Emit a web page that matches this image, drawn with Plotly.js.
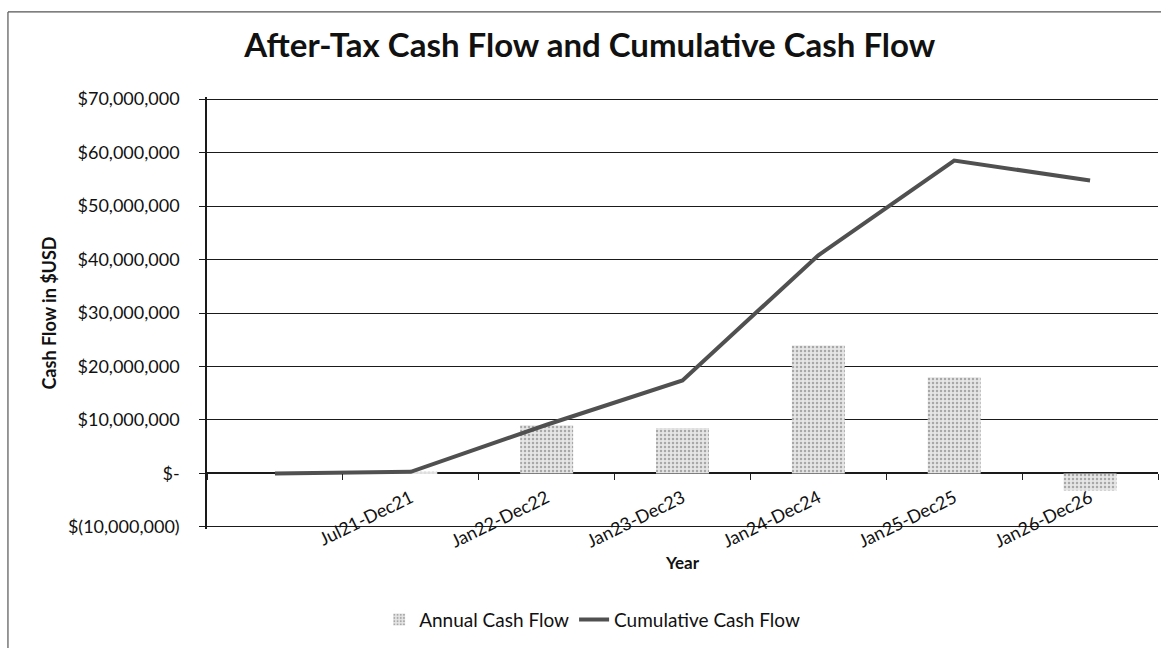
<!DOCTYPE html>
<html>
<head>
<meta charset="utf-8">
<script src="https://cdn.plot.ly/plotly-3.0.1.min.js"></script>
<style>html,body{margin:0;padding:0;background:#fff;}#chart{width:1161px;height:648px;}</style>
</head>
<body>
<div id="chart"></div>
<script>
const categories = [" ", "Jul21-Dec21", "Jan22-Dec22", "Jan23-Dec23", "Jan24-Dec24", "Jan25-Dec25", "Jan26-Dec26"];
const annualCashFlow = [0, 300000, 9000000, 8500000, 23900000, 18000000, -3200000];
const cumulativeCashFlow = [0, 300000, 9100000, 17400000, 40800000, 58500000, 54800000];
const yTickValues = [-10000000, 0, 10000000, 20000000, 30000000, 40000000, 50000000, 60000000, 70000000];
const yTickLabels = ["$(10,000,000)", "$-", "$10,000,000", "$20,000,000", "$30,000,000", "$40,000,000", "$50,000,000", "$60,000,000", "$70,000,000"];

const FONT = "Lato, 'Open Sans', sans-serif";
const Y_MIN = -10400000, Y_MAX = 70400000;

const traces = [
  {
    type: "bar",
    name: "Annual Cash Flow",
    x: categories,
    y: annualCashFlow,
    marker: {
      color: "#dcdcdc",
      line: {width: 0},
      pattern: {shape: ".", fgcolor: "#a8a8a8", bgcolor: "#e6e6e6", size: 4, solidity: 0.3}
    },
    hoverinfo: "x+y"
  },
  {
    type: "scatter",
    mode: "lines",
    name: "Cumulative Cash Flow",
    x: categories,
    y: cumulativeCashFlow,
    line: {color: "#505050", width: 4},
    hoverinfo: "x+y"
  }
];

const layout = {
  width: 1161,
  height: 648,
  margin: {l: 207, r: 3, t: 97, b: 119},
  paper_bgcolor: "#fff",
  plot_bgcolor: "#fff",
  font: {family: FONT, color: "#111", size: 18},
  showlegend: true,
  bargap: 0.61,
  title: {
    text: "<b>After-Tax Cash Flow and Cumulative Cash Flow</b>",
    font: {family: FONT, size: 33, color: "#111"},
    x: 0.508, xref: "container", xanchor: "center",
    y: 0.93, yref: "container", yanchor: "middle"
  },
  xaxis: {
    type: "category",
    anchor: "free",
    position: (0 - Y_MIN) / (Y_MAX - Y_MIN),
    showgrid: false,
    showline: false,
    zeroline: false,
    ticks: "outside",
    tickson: "boundaries",
    ticklen: 6,
    tickcolor: "#222",
    tickangle: -26,
    ticklabelstandoff: 10,
    tickfont: {family: FONT, size: 18, color: "#111"},
    title: {text: "<b>Year</b>", font: {family: FONT, size: 17, color: "#111"}, standoff: 4}
  },
  yaxis: {
    range: [Y_MIN, Y_MAX],
    tickvals: yTickValues,
    ticktext: yTickLabels,
    showgrid: true,
    gridcolor: "#1a1a1a",
    gridwidth: 1.3,
    zeroline: true,
    zerolinecolor: "#1a1a1a",
    zerolinewidth: 1.5,
    showline: true,
    linecolor: "#1a1a1a",
    linewidth: 1.5,
    ticks: "outside",
    ticklen: 6,
    tickcolor: "#1a1a1a",
    ticklabelstandoff: 16,
    tickfont: {family: FONT, size: 18, color: "#111"},
    title: {text: "<b>Cash Flow in $USD</b>", font: {family: FONT, size: 18, color: "#111"}, standoff: 7}
  },
  legend: {
    orientation: "h",
    x: 0.405, xanchor: "center",
    y: -0.21, yanchor: "middle",
    font: {family: FONT, size: 19, color: "#111"},
    itemwidth: 30,
    tracegroupgap: 0
  },
  shapes: [
    {type: "line", xref: "paper", yref: "paper", x0: -0.2093, x1: -0.2093, y0: 1.197, y1: -0.6, line: {color: "#555", width: 1.2}},
    {type: "line", xref: "paper", yref: "paper", x0: -0.2093, x1: 1.05, y0: 1.197, y1: 1.197, line: {color: "#555", width: 1.2}}
  ]
};

Plotly.newPlot("chart", traces, layout, {displayModeBar: false});
</script>
</body>
</html>
